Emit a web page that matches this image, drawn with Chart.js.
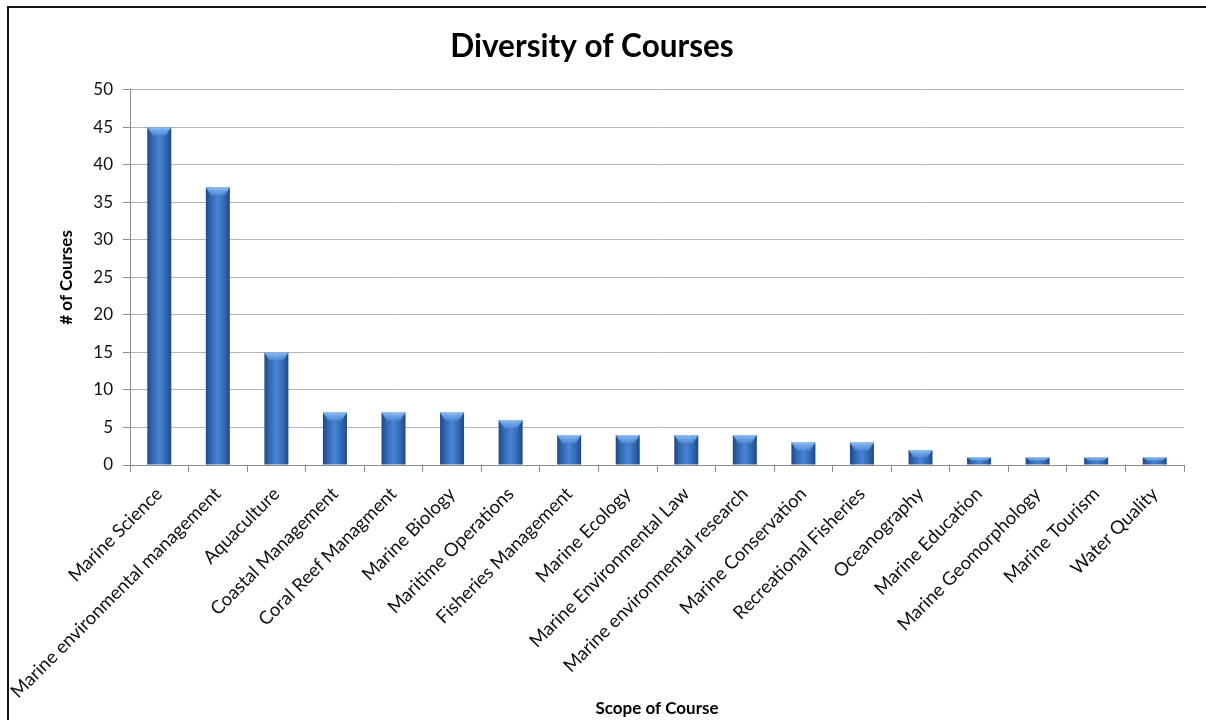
<!DOCTYPE html>
<html>
<head>
<meta charset="utf-8">
<script src="https://cdn.jsdelivr.net/npm/chart.js@4.4.1/dist/chart.umd.min.js"></script>
<style>
  html, body { margin: 0; padding: 0; background: #fff; overflow: hidden; }
  #wrap { position: relative; width: 1206px; height: 720px; overflow: hidden; }
  #frame { position: absolute; left: 7px; top: 6px; width: 1300px; height: 800px;
           border-top: 2px solid #111; border-left: 2px solid #111; pointer-events: none; }
  canvas { position: absolute; left: 0; top: 0; }
</style>
</head>
<body>
<div id="wrap">
  <canvas id="chart" width="1206" height="720"></canvas>
  <div id="frame"></div>
</div>
<script>
// data
const categories = [
  "Marine Science", "Marine environmental management", "Aquaculture",
  "Coastal Management", "Coral Reef Managment", "Marine Biology",
  "Maritime Operations", "Fisheries Management", "Marine Ecology",
  "Marine Environmental Law", "Marine environmental research",
  "Marine Conservation", "Recreational Fisheries", "Oceanography",
  "Marine Education", "Marine Geomorphology", "Marine Tourism", "Water Quality"
];
const courseCounts = [45, 37, 15, 7, 7, 7, 6, 4, 4, 4, 4, 3, 3, 2, 1, 1, 1, 1];
const yTicks = [0, 5, 10, 15, 20, 25, 30, 35, 40, 45, 50];

const fontFamily = "Lato, 'Open Sans', sans-serif";
const barPct = 0.41;

// cylinder-like horizontal gradient per bar
function barFill(context) {
  const chart = context.chart;
  const xs = chart.scales.x;
  if (!xs || !chart.chartArea) return '#3d78c4';
  const cx = xs.getPixelForValue(context.dataIndex);
  const w = (xs.width / categories.length) * barPct;
  const g = chart.ctx.createLinearGradient(cx - w / 2, 0, cx + w / 2, 0);
  g.addColorStop(0, '#1d4a86');
  g.addColorStop(0.2, '#3165ad');
  g.addColorStop(0.5, '#4685d6');
  g.addColorStop(0.8, '#3165ad');
  g.addColorStop(1, '#1d4a86');
  return g;
}

// lighter bevel at the top of each bar
const bevel = {
  id: 'bevel',
  afterDatasetsDraw(chart) {
    const ctx = chart.ctx;
    chart.getDatasetMeta(0).data.forEach(bar => {
      const w = bar.width, x0 = bar.x - w / 2, x1 = bar.x + w / 2, y = bar.y;
      const h = Math.min(8, (bar.base - y) / 2);
      ctx.save();
      const g = ctx.createLinearGradient(0, y, 0, y + h);
      g.addColorStop(0, 'rgba(150,195,245,0.95)');
      g.addColorStop(1, 'rgba(90,150,225,0.6)');
      ctx.fillStyle = g;
      ctx.beginPath();
      ctx.moveTo(x0, y);
      ctx.lineTo(x1, y);
      ctx.lineTo(x1 - w * 0.22, y + h);
      ctx.lineTo(x0 + w * 0.22, y + h);
      ctx.closePath();
      ctx.fill();
      ctx.restore();
    });
  }
};

new Chart(document.getElementById('chart'), {
  type: 'bar',
  data: {
    labels: categories,
    datasets: [{
      label: '# of Courses',
      data: courseCounts,
      backgroundColor: barFill,
      borderWidth: 0,
      barPercentage: barPct,
      categoryPercentage: 1
    }]
  },
  options: {
    responsive: false,
    animation: false,
    layout: { padding: { left: 0, right: 22, top: 0, bottom: 0 } },
    plugins: {
      legend: { display: false },
      tooltip: { enabled: false },
      title: {
        display: true,
        text: 'Diversity of Courses',
        color: '#000',
        font: { family: fontFamily, size: 31.5, weight: 'bold' },
        padding: { top: 28, bottom: 24 }
      }
    },
    scales: {
      x: {
        afterFit(scale) { scale.height = 255; },
        grid: {
          offset: true,
          drawOnChartArea: false,
          drawTicks: true,
          tickLength: 7,
          color: '#8c8c8c'
        },
        border: { color: '#8c8c8c', width: 1 },
        ticks: {
          autoSkip: false,
          minRotation: 45,
          maxRotation: 45,
          padding: 11,
          color: '#111',
          font: { family: fontFamily, size: 18.5 }
        },
        title: {
          display: true,
          text: 'Scope of Course',
          color: '#000',
          font: { family: fontFamily, size: 17, weight: 'bold' },
          padding: { top: 0, bottom: 1 }
        }
      },
      y: {
        min: 0,
        max: 50,
        afterFit(scale) { scale.width = 130; },
        afterBuildTicks(scale) { scale.ticks = yTicks.map(v => ({ value: v })); },
        grid: {
          color: '#b4b4b4',
          tickLength: 7,
          tickColor: '#8c8c8c'
        },
        border: { color: '#8c8c8c', width: 1 },
        ticks: {
          padding: 10,
          color: '#111',
          font: { family: fontFamily, size: 17 }
        },
        title: {
          display: true,
          text: '# of Courses',
          color: '#000',
          font: { family: fontFamily, size: 17, weight: 'bold' },
          padding: { top: 56, bottom: 0 }
        }
      }
    }
  },
  plugins: [bevel]
});
</script>
</body>
</html>
